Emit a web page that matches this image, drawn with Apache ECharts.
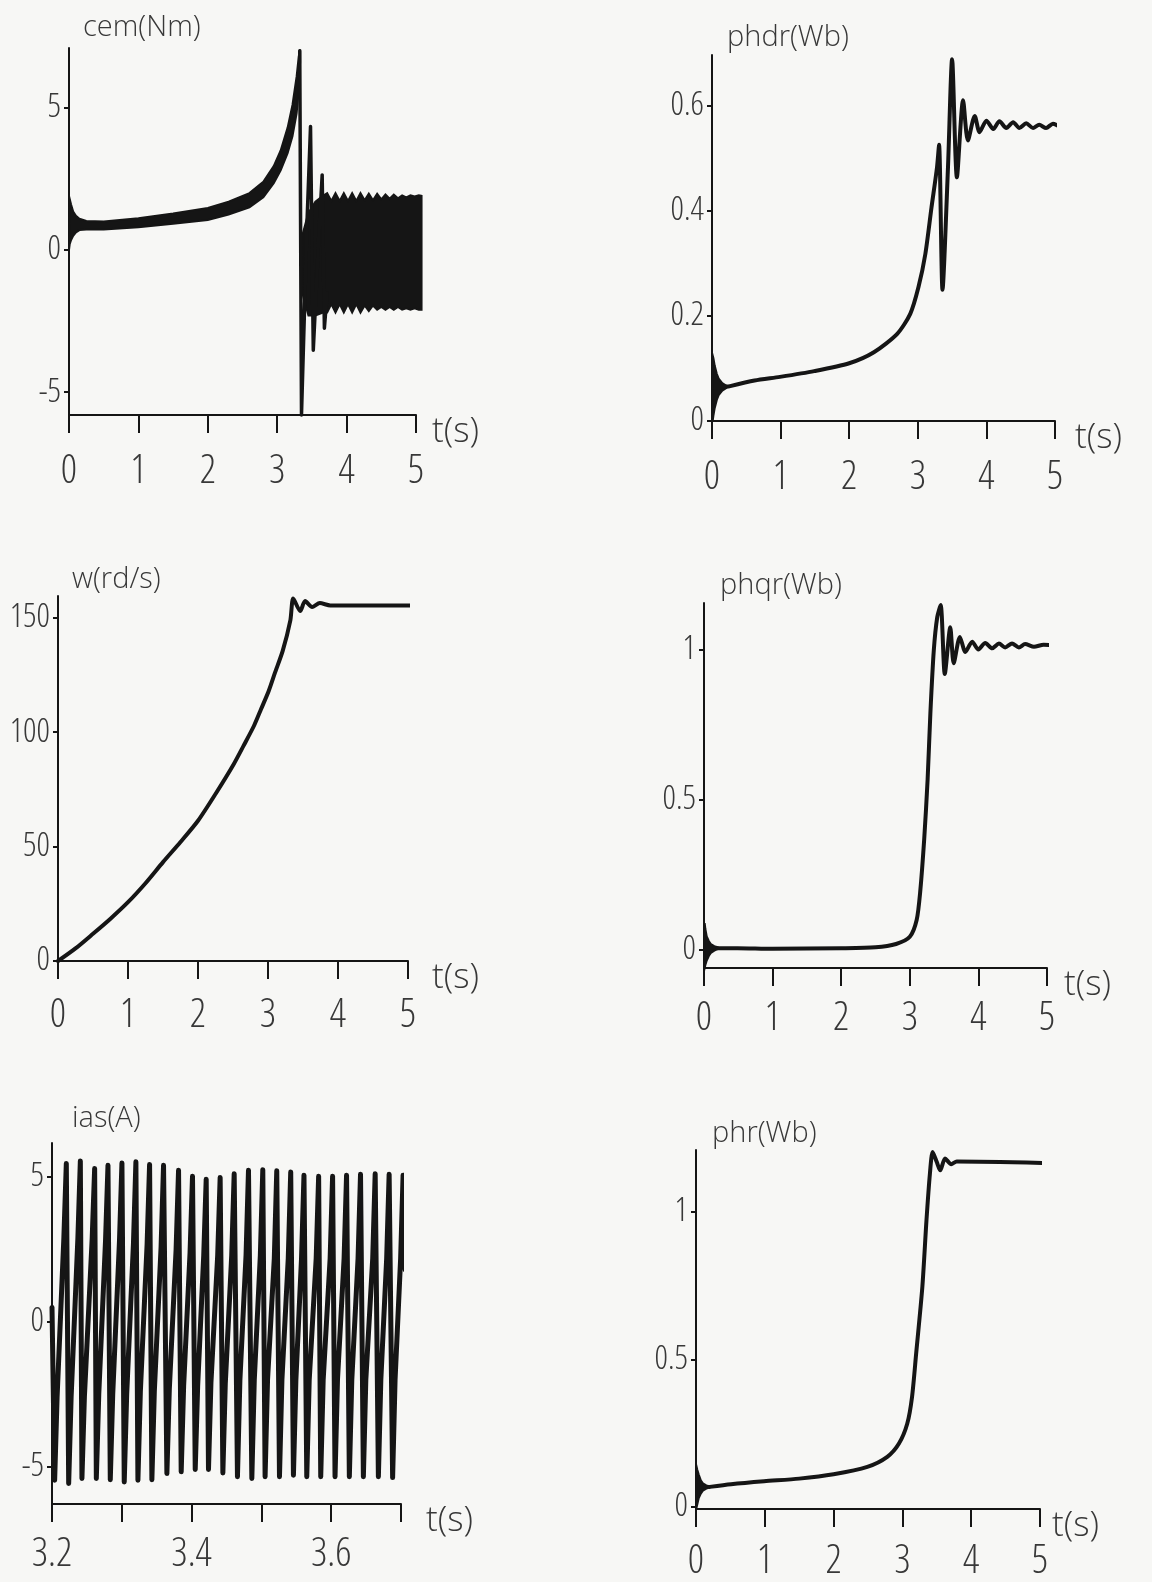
<!DOCTYPE html>
<html><head><meta charset="utf-8">
<script src="https://cdn.jsdelivr.net/npm/echarts@6/dist/echarts.min.js"></script>
<style>html,body{margin:0;padding:0;background:#f7f7f5}#c{width:1152px;height:1582px}</style>
</head><body><div id="c"></div>
<script>
const tTicks = [0, 1, 2, 3, 4, 5];
const iasTTicks = [3.2, 3.3, 3.4, 3.5, 3.6, 3.7];
const iasTLabels = [3.2, 3.4, 3.6];
const cemYTicks = [-5, 0, 5];
const phdrYTicks = [0, 0.2, 0.4, 0.6];
const wYTicks = [0, 50, 100, 150];
const phqrYTicks = [0, 0.5, 1];
const iasYTicks = [-5, 0, 5];
const phrYTicks = [0, 0.5, 1];

const cemBandT  = [0, 0.01, 0.03, 0.06, 0.1, 0.15, 0.25, 0.5, 1.0, 1.5, 2.0, 2.3, 2.6, 2.8, 2.95, 3.05, 3.15, 3.22, 3.28, 3.31, 3.33];
const cemBandHi = [0.1, 1.8, 1.6, 1.35, 1.2, 1.1, 1.02, 1.0, 1.12, 1.28, 1.48, 1.7, 2.0, 2.4, 2.95, 3.5, 4.3, 5.1, 6.1, 6.8, 7.05];
const cemBandLo = [0, 0.2, 0.35, 0.5, 0.62, 0.7, 0.72, 0.72, 0.8, 0.92, 1.05, 1.25, 1.5, 1.85, 2.35, 2.8, 3.4, 4.0, 4.8, 5.6, 6.6];
const cemSpikeT = [3.325, 3.35, 3.43, 3.48, 3.52, 3.6, 3.648, 3.68, 3.72];
const cemSpikeV = [7.0, -5.8, 1.0, 4.34, -3.52, 0.5, 2.64, -2.75, -1.5];
const cemTailT  = [3.36, 3.45, 3.55, 3.66, 3.72, 3.78, 3.84, 3.90, 3.96, 4.02, 4.08, 4.14, 4.20, 4.26, 4.32, 4.38, 4.44, 4.50, 4.56, 4.62, 4.68, 4.74, 4.80, 4.86, 4.92, 4.98, 5.04, 5.08];
const cemTailHi = [0.5, 1.3, 1.7, 1.9, 2.0, 1.72, 2.0, 1.72, 2.0, 1.72, 2.0, 1.72, 2.0, 1.75, 1.98, 1.75, 1.98, 1.78, 1.95, 1.8, 1.95, 1.82, 1.92, 1.85, 1.92, 1.88, 1.92, 1.9];
const cemTailLo = [-1.5, -2.3, -2.3, -2.2, -2.2, -1.9, -2.2, -1.9, -2.2, -1.9, -2.2, -1.9, -2.2, -1.95, -2.15, -1.95, -2.1, -2.0, -2.1, -2.0, -2.1, -2.0, -2.1, -2.05, -2.1, -2.05, -2.1, -2.1];

const phdrBandT  = [0, 0.01, 0.02, 0.04, 0.07, 0.1, 0.15, 0.2, 0.25];
const phdrBandHi = [0, 0.125, 0.12, 0.105, 0.09, 0.08, 0.072, 0.068, 0.067];
const phdrBandLo = [0, 0.0, 0.01, 0.025, 0.04, 0.05, 0.058, 0.062, 0.065];
const phdrT = [0.25, 0.62, 0.99, 1.49, 2.0, 2.36, 2.7, 2.89, 3.01, 3.11, 3.2, 3.28, 3.31, 3.36, 3.44, 3.5, 3.57, 3.66, 3.73, 3.83, 3.9, 4.0, 4.1, 4.19, 4.29, 4.39, 4.48, 4.58, 4.68, 4.77, 4.87, 4.97, 5.09];
const phdrV = [0.066, 0.077, 0.084, 0.095, 0.11, 0.131, 0.166, 0.204, 0.255, 0.318, 0.407, 0.483, 0.526, 0.25, 0.483, 0.689, 0.464, 0.611, 0.534, 0.581, 0.55, 0.572, 0.556, 0.571, 0.558, 0.569, 0.558, 0.567, 0.558, 0.564, 0.558, 0.566, 0.559];

const wT = [0, 0.25, 0.5, 0.75, 1.0, 1.25, 1.5, 1.75, 2.0, 2.25, 2.51, 2.65, 2.8, 2.9, 3.01, 3.1, 3.21, 3.32, 3.36, 3.46, 3.53, 3.63, 3.74, 3.89, 5.09];
const wV = [0, 5.5, 11.9, 18.5, 25.7, 34, 43.2, 52, 61.3, 73, 86, 94, 102.8, 110, 118, 126, 135.5, 149, 158.4, 152.9, 157.3, 154.7, 156.4, 155.4, 155.4];

const phqrBandT  = [0, 0.01, 0.02, 0.04, 0.07, 0.1, 0.15, 0.2];
const phqrBandHi = [0, 0.09, 0.07, 0.045, 0.03, 0.02, 0.013, 0.009];
const phqrBandLo = [0, -0.06, -0.05, -0.035, -0.02, -0.01, -0.002, 0.003];
const phqrT = [0.2, 0.49, 1.0, 2.0, 2.5, 2.8, 3.0, 3.1, 3.15, 3.21, 3.26, 3.3, 3.35, 3.4, 3.45, 3.51, 3.59, 3.64, 3.73, 3.81, 3.91, 4.0, 4.1, 4.2, 4.3, 4.39, 4.49, 4.59, 4.68, 4.81, 4.95, 5.1];
const phqrV = [0.006, 0.006, 0.004, 0.006, 0.009, 0.02, 0.044, 0.1, 0.19, 0.37, 0.57, 0.79, 1.0, 1.11, 1.15, 0.92, 1.076, 0.956, 1.044, 0.994, 1.028, 1.002, 1.024, 1.006, 1.022, 1.009, 1.022, 1.009, 1.02, 1.011, 1.018, 1.016];

const iasT = [3.2000,
  3.2038, 3.2073, 3.2170, 3.2205,
  3.2239, 3.2274, 3.2371, 3.2406,
  3.2429, 3.2464, 3.2576, 3.2611,
  3.2635, 3.2670, 3.2767, 3.2802,
  3.2835, 3.2870, 3.2967, 3.3002,
  3.3035, 3.3070, 3.3167, 3.3202,
  3.3231, 3.3266, 3.3363, 3.3398,
  3.3431, 3.3466, 3.3563, 3.3598,
  3.3646, 3.3681, 3.3778, 3.3813,
  3.3851, 3.3886, 3.3978, 3.4013,
  3.4052, 3.4087, 3.4174, 3.4209,
  3.4242, 3.4277, 3.4374, 3.4409,
  3.4448, 3.4483, 3.4575, 3.4610,
  3.4657, 3.4692, 3.4780, 3.4815,
  3.4863, 3.4898, 3.4985, 3.5020,
  3.5053, 3.5088, 3.5185, 3.5220,
  3.5259, 3.5294, 3.5385, 3.5420,
  3.5459, 3.5494, 3.5575, 3.5610,
  3.5650, 3.5685, 3.5785, 3.5820,
  3.5850, 3.5885, 3.5985, 3.6020,
  3.6055, 3.6090, 3.6185, 3.6220,
  3.6260, 3.6295, 3.6385, 3.6420,
  3.6461, 3.6496, 3.6595, 3.6630,
  3.6676, 3.6711, 3.6795, 3.6830,
  3.6880, 3.6915, 3.6995, 3.7030,
  3.7060];
const iasV = [0.5,
  -5.46, -2.6, 2.9, 5.46,
  -5.57, -2.6, 2.9, 5.55,
  -5.40, -2.6, 2.9, 5.29,
  -5.40, -2.5, 2.8, 5.40,
  -5.44, -2.5, 2.8, 5.48,
  -5.52, -2.5, 2.7, 5.52,
  -5.46, -2.4, 2.7, 5.43,
  -5.44, -2.4, 2.6, 5.40,
  -5.23, -2.3, 2.5, 5.23,
  -5.17, -2.2, 2.4, 5.02,
  -5.09, -2.2, 2.3, 4.92,
  -5.09, -2.1, 2.3, 4.98,
  -5.21, -2.1, 2.3, 5.11,
  -5.34, -2.0, 2.3, 5.23,
  -5.40, -2.0, 2.3, 5.25,
  -5.34, -2.0, 2.2, 5.21,
  -5.34, -2.0, 2.2, 5.17,
  -5.29, -2.0, 2.2, 5.06,
  -5.34, -2.0, 2.2, 5.02,
  -5.34, -2.0, 2.2, 5.02,
  -5.34, -2.0, 2.2, 5.06,
  -5.34, -2.0, 2.2, 5.09,
  -5.34, -2.0, 2.2, 5.11,
  -5.34, -2.0, 2.2, 5.09,
  -5.37, -2.0, 2.2, 5.06,
  1.8];

const phrBandT  = [0, 0.01, 0.02, 0.04, 0.07, 0.1, 0.15, 0.2];
const phrBandHi = [0, 0.135, 0.125, 0.11, 0.09, 0.08, 0.073, 0.07];
const phrBandLo = [0, 0.0, 0.01, 0.03, 0.045, 0.055, 0.062, 0.066];
const phrT = [0.2, 0.51, 0.99, 1.5, 2.0, 2.49, 2.78, 2.95, 3.07, 3.14, 3.2, 3.29, 3.35, 3.4, 3.44, 3.5, 3.55, 3.62, 3.71, 3.79, 5.07];
const phrV = [0.068, 0.077, 0.087, 0.096, 0.111, 0.136, 0.17, 0.215, 0.282, 0.373, 0.52, 0.746, 0.972, 1.13, 1.203, 1.169, 1.141, 1.181, 1.162, 1.171, 1.166];

const FONT = "'Open Sans',sans-serif";
const FW_NARROW = '350 condensed';
const FW_NORMAL = '350';
const TXT = '#383838';
const INK = '#151515';

const panels = [
  {title: 'cem(Nm)',  grid: {left: 69,  top: 48,   width: 347, height: 367}, xmin: 0,   xmax: 5,   ymin: -5.8,  ymax: 7.1,   xt: tTicks,    xl: tTicks,     yt: cemYTicks,  tpos: [83, 13],   gap: 16, lm: 37},
  {title: 'phdr(Wb)', grid: {left: 712, top: 55,   width: 343, height: 366}, xmin: 0,   xmax: 5,   ymin: 0,     ymax: 0.697, xt: tTicks,    xl: tTicks,     yt: phdrYTicks, tpos: [727, 23],  gap: 20, lm: 37},
  {title: 'w(rd/s)',  grid: {left: 58,  top: 596,  width: 350, height: 365}, xmin: 0,   xmax: 5,   ymin: 0,     ymax: 159.5, xt: tTicks,    xl: tTicks,     yt: wYTicks,    tpos: [72, 565],  gap: 24, lm: 35},
  {title: 'phqr(Wb)', grid: {left: 704, top: 603,  width: 343, height: 365}, xmin: 0,   xmax: 5,   ymin: -0.06, ymax: 1.157, xt: tTicks,    xl: tTicks,     yt: phqrYTicks, tpos: [720, 571], gap: 17, lm: 31},
  {title: 'ias(A)',   grid: {left: 52,  top: 1143, width: 349, height: 361}, xmin: 3.2, xmax: 3.7, ymin: -6.28, ymax: 6.17,  xt: iasTTicks, xl: iasTLabels, yt: iasYTicks,  tpos: [72, 1104], gap: 25, lm: 31},
  {title: 'phr(Wb)',  grid: {left: 696, top: 1150, width: 344, height: 359}, xmin: 0,   xmax: 5,   ymin: -0.007,ymax: 1.21,  xt: tTicks,    xl: tTicks,     yt: phrYTicks,  tpos: [712, 1119], gap: 12, lm: 33}
];

const zip = (T, V) => T.map((t, i) => [t, V[i]]);

function bandSeries(idx, T, Hi, Lo) {
  return {
    type: 'custom', xAxisIndex: idx, yAxisIndex: idx, clip: false, silent: true,
    data: T.map((t, i) => [t, Hi[i], Lo[i]]),
    renderItem: function (params, api) {
      if (params.dataIndex !== 0) return null;
      const pts = [];
      for (let i = 0; i < T.length; i++) pts.push(api.coord([T[i], Hi[i]]));
      for (let i = T.length - 1; i >= 0; i--) pts.push(api.coord([T[i], Lo[i]]));
      return {type: 'polygon', shape: {points: pts}, style: {fill: INK, stroke: INK, lineWidth: 2}};
    }
  };
}
function lineSeries(idx, T, V, w, smooth) {
  return {
    type: 'line', xAxisIndex: idx, yAxisIndex: idx, data: zip(T, V),
    symbol: 'none', showSymbol: false, clip: false, silent: true,
    smooth: smooth || false,
    lineStyle: {color: INK, width: w, join: 'round', cap: 'round'}
  };
}

const axisLine = {show: true, onZero: false, lineStyle: {color: INK, width: 2}};

const option = {
  backgroundColor: '#f7f7f5',
  animation: false,
  title: panels.map(p => ({
    text: p.title, left: p.tpos[0], top: p.tpos[1], padding: 0,
    textStyle: {fontFamily: FONT, fontSize: 29, fontWeight: FW_NORMAL, color: TXT}
  })),
  grid: panels.map(p => Object.assign({containLabel: false}, p.grid)),
  xAxis: panels.map((p, i) => ({
    type: 'value', gridIndex: i, min: p.xmin, max: p.xmax,
    axisLine: axisLine,
    axisTick: {show: true, inside: false, length: 18, customValues: p.xt, lineStyle: {color: INK, width: 2}},
    axisLabel: {show: true, customValues: p.xl, margin: p.lm, fontFamily: FONT, fontWeight: FW_NARROW, fontSize: 40, color: TXT,
      formatter: v => (p.xmin === 3.2 ? v.toFixed(1) : String(v))},
    splitLine: {show: false},
    name: 't(s)', nameLocation: 'end', nameGap: p.gap,
    nameTextStyle: {fontFamily: FONT, fontWeight: FW_NORMAL, fontSize: 35, color: TXT, verticalAlign: 'top', padding: [0, 0, 0, 0]}
  })),
  yAxis: panels.map((p, i) => ({
    type: 'value', gridIndex: i, min: p.ymin, max: p.ymax,
    axisLine: axisLine,
    axisTick: {show: true, inside: false, length: 5, customValues: p.yt, lineStyle: {color: INK, width: 2}},
    axisLabel: {show: true, customValues: p.yt, margin: 8, fontFamily: FONT, fontWeight: FW_NARROW, fontSize: 33, color: TXT},
    splitLine: {show: false}
  })),
  series: [
    bandSeries(0, cemBandT, cemBandHi, cemBandLo),
    bandSeries(0, cemTailT, cemTailHi, cemTailLo),
    lineSeries(0, cemSpikeT, cemSpikeV, 3.5),
    bandSeries(1, phdrBandT, phdrBandHi, phdrBandLo),
    lineSeries(1, phdrT, phdrV, 4, 0.25),
    lineSeries(2, wT, wV, 4, 0.25),
    bandSeries(3, phqrBandT, phqrBandHi, phqrBandLo),
    lineSeries(3, phqrT, phqrV, 4, 0.25),
    lineSeries(4, iasT, iasV, 5),
    bandSeries(5, phrBandT, phrBandHi, phrBandLo),
    lineSeries(5, phrT, phrV, 4, 0.25)
  ]
};

const chart = echarts.init(document.getElementById('c'), null, {renderer: 'canvas'});
chart.setOption(option);
</script>
</body></html>
